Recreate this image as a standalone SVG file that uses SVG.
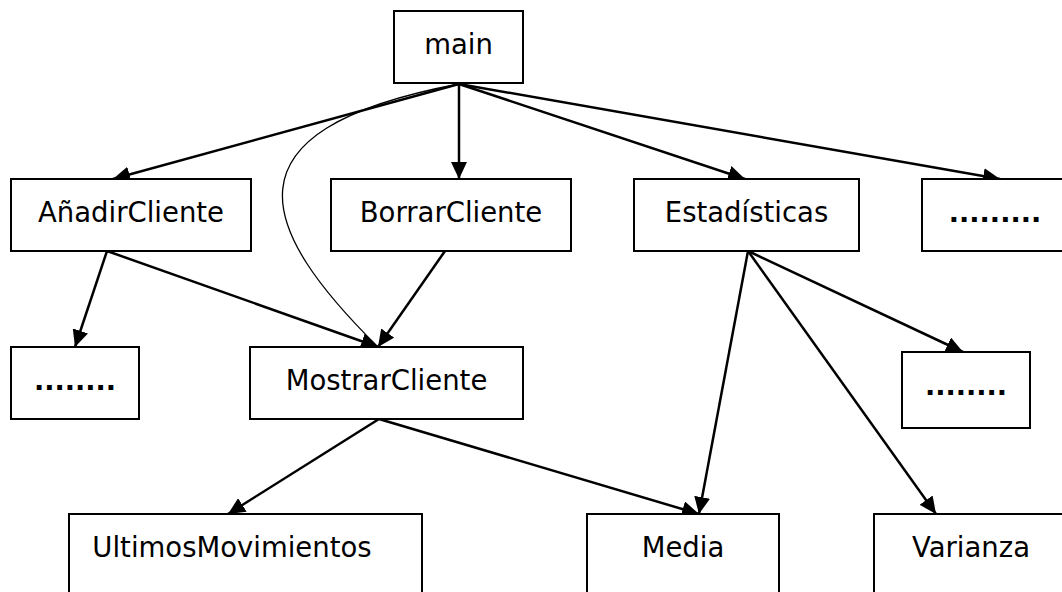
<svg xmlns="http://www.w3.org/2000/svg" width="1062" height="592" viewBox="0 0 1062 592">
<style>
.box{fill:#fff;stroke:#000;stroke-width:2}
.lbl{font-family:"DejaVu Sans","Verdana",sans-serif;font-size:27.5px;fill:#000;text-anchor:middle}
.dots{font-family:"DejaVu Sans","Verdana",sans-serif;font-size:27px;font-weight:bold;fill:#000;text-anchor:middle}
.edge{fill:none;stroke:#000;stroke-width:2.5}
.thin{fill:none;stroke:#000;stroke-width:1.3}
</style>
<defs>
<marker id="arr" markerUnits="userSpaceOnUse" markerWidth="17" markerHeight="16" refX="17" refY="8" orient="auto">
<path d="M0,0 L17,8 L0,16 z" fill="#000"/>
</marker>
</defs>
<rect width="1062" height="592" fill="#fff"/>
<g id="connectors">
<line class="edge" x1="459" y1="84" x2="113" y2="179" marker-end="url(#arr)"/>
<line class="edge" x1="459" y1="84" x2="459" y2="179" marker-end="url(#arr)"/>
<line class="edge" x1="459" y1="84" x2="745" y2="179" marker-end="url(#arr)"/>
<line class="edge" x1="459" y1="84" x2="1000" y2="179" marker-end="url(#arr)"/>
<path class="thin" d="M459,84 C215,130 260,230 378,347"/>
<line class="edge" x1="107" y1="251" x2="75" y2="347" marker-end="url(#arr)"/>
<line class="edge" x1="107" y1="251" x2="378" y2="347" marker-end="url(#arr)"/>
<line class="edge" x1="445" y1="251" x2="378" y2="347" marker-end="url(#arr)"/>
<line class="edge" x1="379" y1="419" x2="228" y2="514" marker-end="url(#arr)"/>
<line class="edge" x1="379" y1="419" x2="699" y2="514" marker-end="url(#arr)"/>
<line class="edge" x1="748" y1="251" x2="699" y2="514" marker-end="url(#arr)"/>
<line class="edge" x1="748" y1="251" x2="936" y2="514" marker-end="url(#arr)"/>
<line class="edge" x1="748" y1="251" x2="963" y2="352" marker-end="url(#arr)"/>
</g>
<g id="main"><rect class="box" x="394" y="11" width="129" height="72"/><text class="lbl" x="458.5" y="54">main</text></g>
<g id="anadir"><rect class="box" x="11" y="179" width="240" height="72"/><text class="lbl" x="131" y="222">AñadirCliente</text></g>
<g id="borrar"><rect class="box" x="331" y="179" width="240" height="72"/><text class="lbl" x="451" y="222">BorrarCliente</text></g>
<g id="estadisticas"><rect class="box" x="634" y="179" width="225" height="72"/><text class="lbl" x="746.5" y="222">Estadísticas</text></g>
<g id="dots-top"><rect class="box" x="922" y="179" width="146" height="72"/><text class="dots" x="995" y="222">.........</text></g>
<g id="dots-left"><rect class="box" x="11" y="347" width="128" height="72"/><text class="dots" x="75" y="390">........</text></g>
<g id="mostrar"><rect class="box" x="250" y="347" width="273" height="72"/><text class="lbl" x="386.5" y="390">MostrarCliente</text></g>
<g id="dots-mid"><rect class="box" x="902" y="352" width="128" height="76"/><text class="dots" x="966" y="395">........</text></g>
<g id="ultimos"><rect class="box" x="69" y="514" width="353" height="82"/><text class="lbl" x="232" y="557">UltimosMovimientos</text></g>
<g id="media"><rect class="box" x="587" y="514" width="192" height="82"/><text class="lbl" x="683" y="557">Media</text></g>
<g id="varianza"><rect class="box" x="874" y="514" width="194" height="82"/><text class="lbl" x="971" y="557">Varianza</text></g>
</svg>
